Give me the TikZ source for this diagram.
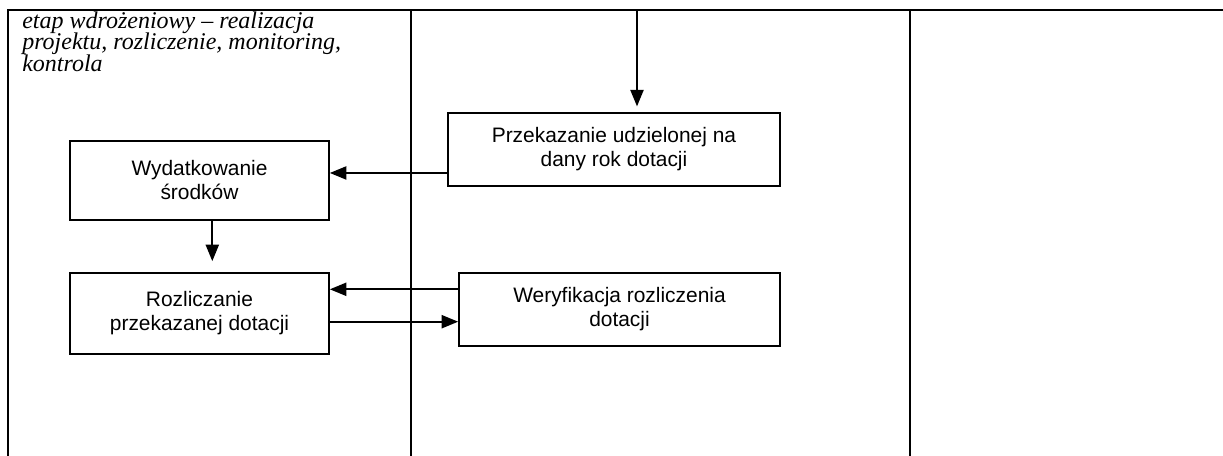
\documentclass[tikz,border=0pt]{standalone}
\usepackage{fontspec}
\setmainfont{Liberation Serif}
\newfontfamily\boxfont{Liberation Sans}
\usetikzlibrary{arrows.meta}
\tikzset{
  grid/.style={line width=2pt, line cap=rect},
  procbox/.style={draw, line width=1.2pt, align=center, inner sep=0pt,
    font=\boxfont\fontsize{15.7pt}{18pt}\selectfont},
  arr/.style={line width=1.7pt, -{Triangle[length=12.5pt,width=9.8pt]}},
  ttl/.style={anchor=base west, inner sep=0pt, font=\itshape\fontsize{18pt}{20pt}\selectfont}
}
\begin{document}
\begin{tikzpicture}[x=0.75pt,y=-0.75pt]
\useasboundingbox (0,0) rectangle (1223,456);
% table frame
\coordinate (tl) at (8,10);
\coordinate (tr) at (1223,10);
\coordinate (c1t) at (411,10);
\coordinate (c1b) at (411,458);
\coordinate (c2t) at (910,10);
\coordinate (c2b) at (910,458);
\coordinate (bl) at (8,458);
\draw[grid] (tr) -- (tl) -- (bl);
\draw[grid] (c1t) -- (c1b);
\draw[grid] (c2t) -- (c2b);
% title
\node[ttl] (t1) at (22,28.3) {etap wdrożeniowy – realizacja};
\node[ttl] (t2) at (22,50) {projektu, rozliczenie, monitoring,};
\node[ttl] (t3) at (22,71.7) {kontrola};
% boxes
\node[procbox, minimum width=249pt, minimum height=54.4pt] (A) at (614,149.5) {Przekazanie udzielonej na\\dany rok dotacji};
\node[procbox, minimum width=194.25pt, minimum height=59.25pt] (B) at (199.5,180.5) {Wydatkowanie\\środków};
\node[procbox, minimum width=194.25pt, minimum height=60.75pt] (C) at (199.5,313.5) {Rozliczanie\\przekazanej dotacji};
\node[procbox, minimum width=240.75pt, minimum height=54.75pt] (D) at (619.5,309.5) {Weryfikacja rozliczenia\\dotacji};
% arrows
\coordinate (topin) at (637,10);
\draw[arr, shorten >=4.5pt] (topin) -- (topin |- A.north);
\draw[arr] ([yshift=-17.6pt]A.west) -- ([yshift=-17.6pt]A.west -| B.east);
\draw[arr, shorten >=8.25pt] ([xshift=9.6pt]B.south) -- ([xshift=9.6pt]B.south |- C.north);
\draw[arr] ([yshift=15.15pt]D.west) -- ([yshift=15.15pt]D.west -| C.east);
\draw[arr] ([yshift=-9.15pt]D.west -| C.east) -- ([yshift=-9.15pt]D.west);
\end{tikzpicture}
\end{document}
